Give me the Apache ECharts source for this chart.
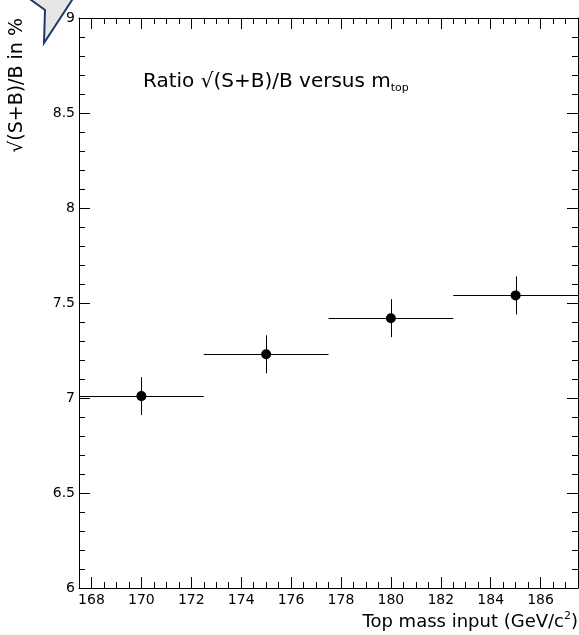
<!DOCTYPE html>
<html><head><meta charset="utf-8">
<script src="https://cdn.jsdelivr.net/npm/echarts@6/dist/echarts.min.js"></script>
<style>html,body{margin:0;padding:0;background:#fff}#c{width:579px;height:635px}</style>
</head><body><div id="c"></div>
<script>
const massInput = [170, 175, 180, 185];
const ratioValues = [7.01, 7.23, 7.42, 7.54];
const massHalfWidth = [2.5, 2.5, 2.5, 2.5];
const ratioErrors = [0.1, 0.1, 0.1, 0.1];
const xTickLabels = [168, 170, 172, 174, 176, 178, 180, 182, 184, 186];
const xRange = [167.5, 187.5];
const yRange = [6, 9];

const FONT = 'DejaVu Sans';
const chart = echarts.init(document.getElementById('c'));
const barData = massInput.map((x, i) => [x, ratioValues[i], massHalfWidth[i], ratioErrors[i]]);
const ptData = massInput.map((x, i) => [x, ratioValues[i]]);

const lineStyle = {color: '#000', width: 1};
function xAxisPair(pos, showLabel) {
  return [
    { type: 'value', position: pos, min: xRange[0], max: xRange[1], interval: 0.5,
      axisLine: {show: true, onZero: false, lineStyle},
      axisTick: {show: true, inside: true, length: 6, lineStyle},
      axisLabel: {show: false}, splitLine: {show: false} },
    { type: 'value', position: pos, min: xRange[0], max: xRange[1],
      axisLine: {show: false, onZero: false},
      axisTick: {show: true, inside: true, length: 11, lineStyle, customValues: xTickLabels},
      axisLabel: {show: showLabel, customValues: xTickLabels, fontFamily: FONT, fontSize: 14, color: '#000', margin: 5},
      splitLine: {show: false} }
  ];
}
function yAxisDef(pos, showLabel) {
  return { type: 'value', position: pos, min: yRange[0], max: yRange[1], interval: 0.5,
    axisLine: {show: true, onZero: false, lineStyle},
    axisTick: {show: true, inside: true, length: 11, lineStyle},
    minorTick: {show: true, splitNumber: 5, length: 6, lineStyle},
    axisLabel: {show: showLabel, fontFamily: FONT, fontSize: 14, color: '#000', margin: 4},
    splitLine: {show: false} };
}
const px = v => Math.round(v) + 0.5;

chart.setOption({
  animation: false,
  grid: {left: 79, right: 1, top: 18, bottom: 47},
  xAxis: [...xAxisPair('bottom', true), ...xAxisPair('top', false)],
  yAxis: [yAxisDef('left', true), yAxisDef('right', false)],
  series: [
    { type: 'custom', xAxisIndex: 0, yAxisIndex: 0, data: barData,
      renderItem: function (params, api) {
        const x = api.value(0), y = api.value(1), xe = api.value(2), ye = api.value(3);
        const l = api.coord([x - xe, y]), r = api.coord([x + xe, y]);
        const t = api.coord([x, y + ye]), b = api.coord([x, y - ye]);
        return { type: 'group', children: [
          {type: 'line', shape: {x1: l[0], y1: px(l[1]), x2: r[0], y2: px(r[1])}, style: {stroke: '#000', lineWidth: 1}},
          {type: 'line', shape: {x1: px(t[0]), y1: t[1], x2: px(b[0]), y2: b[1]}, style: {stroke: '#000', lineWidth: 1}}
        ]};
      }, z: 2 },
    { type: 'scatter', xAxisIndex: 0, yAxisIndex: 0, data: ptData, symbol: 'circle', symbolSize: 10,
      itemStyle: {color: '#000', opacity: 1}, z: 3 }
  ],
  graphic: [
    { type: 'text', x: 143, y: 82, z: 10,
      style: { text: '{m|Ratio √(S+B)/B versus m}{s|top}', verticalAlign: 'middle', align: 'left',
        rich: { m: {fontFamily: FONT, fontSize: 20, color: '#000', lineHeight: 24, verticalAlign: 'middle'},
                s: {fontFamily: FONT, fontSize: 11, color: '#000', lineHeight: 11, verticalAlign: 'bottom'} } } },
    { type: 'text', x: 578, y: 622, z: 10,
      style: { text: '{m|Top mass input (GeV/c}{s|2}{m|)}', verticalAlign: 'middle', align: 'right',
        rich: { m: {fontFamily: FONT, fontSize: 18, color: '#000', lineHeight: 22, verticalAlign: 'middle'},
                s: {fontFamily: FONT, fontSize: 11, color: '#000', lineHeight: 11, verticalAlign: 'top'} } } },
    { type: 'text', x: 17, y: 18, rotation: Math.PI / 2, z: 10,
      style: { text: '√(S+B)/B in %', fontFamily: FONT, fontSize: 19, fill: '#000', align: 'right', verticalAlign: 'middle' } },
    { type: 'polygon', z: 20,
      shape: { points: [[27, -3], [45, 10], [44, 43], [74, -3]] },
      style: { fill: '#e6e6e6', stroke: '#1b3a6b', lineWidth: 2 } }
  ]
});
</script></body></html>
